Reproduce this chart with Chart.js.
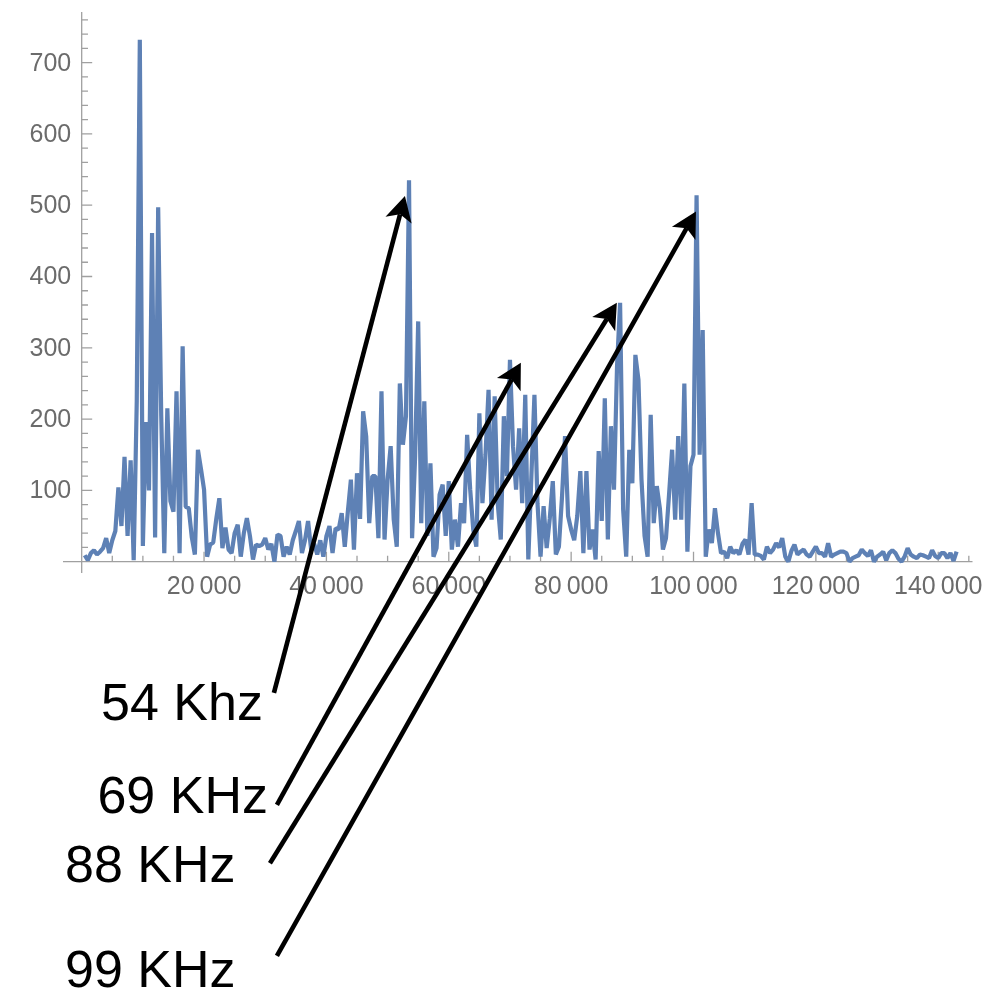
<!DOCTYPE html>
<html>
<head>
<meta charset="utf-8">
<script src="https://cdn.jsdelivr.net/npm/chart.js@4"></script>
<style>
  html, body { margin: 0; padding: 0; background: #fff; }
  #spectrum { display: block; }
</style>
</head>
<body>
<canvas id="spectrum" width="1001" height="988"></canvas>
<script>
// Frequency bins (Hz) - spectrum sampled every 500 Hz, first bin at 500 Hz
const binWidth = 500;

// Amplitude per bin
const amplitudes = [
    9, 2, 12, 16, 10, 14, 19, 33, 12, 30,
    43, 104, 50, 147, 36, 142, 2, 225, 732, 22,
    196, 100, 461, 34, 497, 205, 12, 215, 85, 70,
    239, 12, 302, 77, 75, 34, 10, 157, 130, 101,
    7, 24, 27, 60, 89, 19, 48, 17, 12, 40,
    52, 7, 40, 61, 36, 3, 24, 22, 24, 33,
    17, 25, 0, 38, 36, 7, 21, 10, 30, 43,
    57, 12, 30, 57, 17, 25, 10, 30, 7, 36,
    50, 12, 47, 45, 68, 21, 70, 115, 17, 124,
    60, 211, 176, 54, 120, 120, 33, 239, 31, 115,
    162, 59, 21, 250, 164, 204, 535, 33, 148, 337,
    54, 225, 36, 138, 7, 19, 94, 108, 36, 113,
    17, 59, 21, 82, 54, 178, 101, 45, 21, 208,
    82, 150, 241, 59, 232, 82, 31, 204, 120, 283,
    162, 101, 187, 82, 234, 3, 120, 234, 82, 7,
    78, 19, 60, 113, 10, 21, 90, 176, 64, 45,
    30, 64, 127, 12, 127, 17, 45, 3, 155, 57,
    229, 31, 190, 101, 274, 363, 73, 7, 157, 110,
    290, 255, 115, 36, 7, 206, 54, 106, 75, 17,
    33, 94, 157, 59, 176, 59, 250, 14, 134, 150,
    514, 150, 325, 7, 45, 26, 75, 40, 12, 14,
    5, 21, 12, 16, 10, 25, 31, 10, 82, 10,
    10, 8, 3, 21, 12, 17, 26, 20, 33, 7,
    0, 15, 24, 10, 14, 17, 10, 7, 14, 21,
    12, 12, 7, 26, 7, 10, 12, 14, 14, 12,
    0, 5, 7, 9, 17, 12, 8, 16, 0, 7,
    10, 14, 2, 12, 16, 12, 4, 0, 7, 19,
    10, 7, 5, 10, 9, 7, 5, 16, 8, 5,
    12, 12, 5, 12, 1, 14
];

// Tick values and labels
const xTickValues = [20000, 40000, 60000, 80000, 100000, 120000, 140000];
const xTickLabels = ['20\u2009000', '40\u2009000', '60\u2009000', '80\u2009000', '100\u2009000', '120\u2009000', '140\u2009000'];
const yTickValues = [100, 200, 300, 400, 500, 600, 700];
const yTickLabels = ['100', '200', '300', '400', '500', '600', '700'];

// Annotation labels and the peak each arrow points at (data units)
const peakLabels = ['54 Khz', '69 KHz', '88 KHz', '99 KHz'];
const arrowTips = [[52830, 513], [71780, 279], [87470, 363], [100400, 491]];
const arrowTails = [[31420, -184], [31910, -341], [30770, -423], [31910, -553]];
const labelAnchors = [[29620, -222, 'right'], [30440, -352, 'right'], [-2730, -449, 'left'], [-2730, -596, 'left']];

const points = amplitudes.map((a, i) => ({ x: binWidth * (i + 1), y: a }));

// Mathematica-style axes crossing at the origin
const axesPlugin = {
    id: 'axes',
    beforeDatasetsDraw(chart) {
        const { ctx } = chart;
        const xs = chart.scales.x, ys = chart.scales.y;
        const x0 = xs.getPixelForValue(0);
        const y0 = ys.getPixelForValue(0);
        ctx.save();
        ctx.strokeStyle = '#a0a0a0';
        ctx.lineWidth = 1.3;
        ctx.beginPath();
        ctx.moveTo(xs.left, y0);
        ctx.lineTo(xs.right, y0);
        ctx.moveTo(x0, ys.top);
        ctx.lineTo(x0, ys.bottom);
        ctx.stroke();

        // x ticks (minor every 5000, major every 20000)
        ctx.beginPath();
        for (let v = 5000; v <= 145000; v += 5000) {
            const px = xs.getPixelForValue(v);
            const len = v % 20000 === 0 ? 10 : 6;
            ctx.moveTo(px, y0);
            ctx.lineTo(px, y0 - len);
        }
        // y ticks (minor every 20, major every 100)
        for (let v = 20; v <= 760; v += 20) {
            const py = ys.getPixelForValue(v);
            const len = v % 100 === 0 ? 10.5 : 6.3;
            ctx.moveTo(x0, py);
            ctx.lineTo(x0 + len, py);
        }
        ctx.stroke();

        ctx.fillStyle = '#6b6b6b';
        ctx.font = '25px "Liberation Sans", Arial, sans-serif';
        ctx.textBaseline = 'alphabetic';
        ctx.textAlign = 'center';
        xTickValues.forEach((v, i) => {
            ctx.fillText(xTickLabels[i], xs.getPixelForValue(v), y0 + 32);
        });
        ctx.textAlign = 'right';
        yTickValues.forEach((v, i) => {
            ctx.fillText(yTickLabels[i], x0 - 10.5, ys.getPixelForValue(v) + 8);
        });
        ctx.restore();
    }
};

// Arrows and frequency labels
const arrowPlugin = {
    id: 'arrows',
    afterDatasetsDraw(chart) {
        const { ctx } = chart;
        const xs = chart.scales.x, ys = chart.scales.y;
        ctx.save();
        ctx.strokeStyle = '#000';
        ctx.fillStyle = '#000';
        ctx.lineWidth = 4.6;
        arrowTips.forEach((tip, i) => {
            const tx = xs.getPixelForValue(tip[0]), ty = ys.getPixelForValue(tip[1]);
            const sx = xs.getPixelForValue(arrowTails[i][0]), sy = ys.getPixelForValue(arrowTails[i][1]);
            const len = Math.hypot(tx - sx, ty - sy);
            const ux = (tx - sx) / len, uy = (ty - sy) / len;
            const nx = -uy, ny = ux;
            const headLen = 25, halfW = 13.5, notch = 19;
            ctx.beginPath();
            ctx.moveTo(sx, sy);
            ctx.lineTo(tx - ux * notch, ty - uy * notch);
            ctx.stroke();
            ctx.beginPath();
            ctx.moveTo(tx, ty);
            ctx.lineTo(tx - ux * headLen + nx * halfW, ty - uy * headLen + ny * halfW);
            ctx.lineTo(tx - ux * notch, ty - uy * notch);
            ctx.lineTo(tx - ux * headLen - nx * halfW, ty - uy * headLen - ny * halfW);
            ctx.closePath();
            ctx.fill();
        });

        ctx.font = '52px "Liberation Sans", Arial, sans-serif';
        ctx.textBaseline = 'alphabetic';
        peakLabels.forEach((t, i) => {
            const a = labelAnchors[i];
            ctx.textAlign = a[2];
            ctx.fillText(t, xs.getPixelForValue(a[0]), ys.getPixelForValue(a[1]));
        });
        ctx.restore();
    }
};

const ctx = document.getElementById('spectrum').getContext('2d');

const spectrumChart = new Chart(ctx, {
    type: 'line',
    data: {
        datasets: [{
            data: points,
            borderColor: '#5e81b5',
            borderWidth: 4.2,
            borderJoinStyle: 'bevel',
            pointRadius: 0,
            tension: 0,
            fill: false
        }]
    },
    options: {
        responsive: false,
        animation: false,
        devicePixelRatio: 1,
        layout: {
            padding: { left: 63, right: 28.5, top: 12, bottom: 415 }
        },
        scales: {
            x: { type: 'linear', min: -3055, max: 145600, display: false },
            y: { type: 'linear', min: -15.9, max: 771, display: false }
        },
        plugins: {
            legend: { display: false },
            tooltip: { enabled: false }
        }
    },
    plugins: [axesPlugin, arrowPlugin]
});
</script>
</body>
</html>
